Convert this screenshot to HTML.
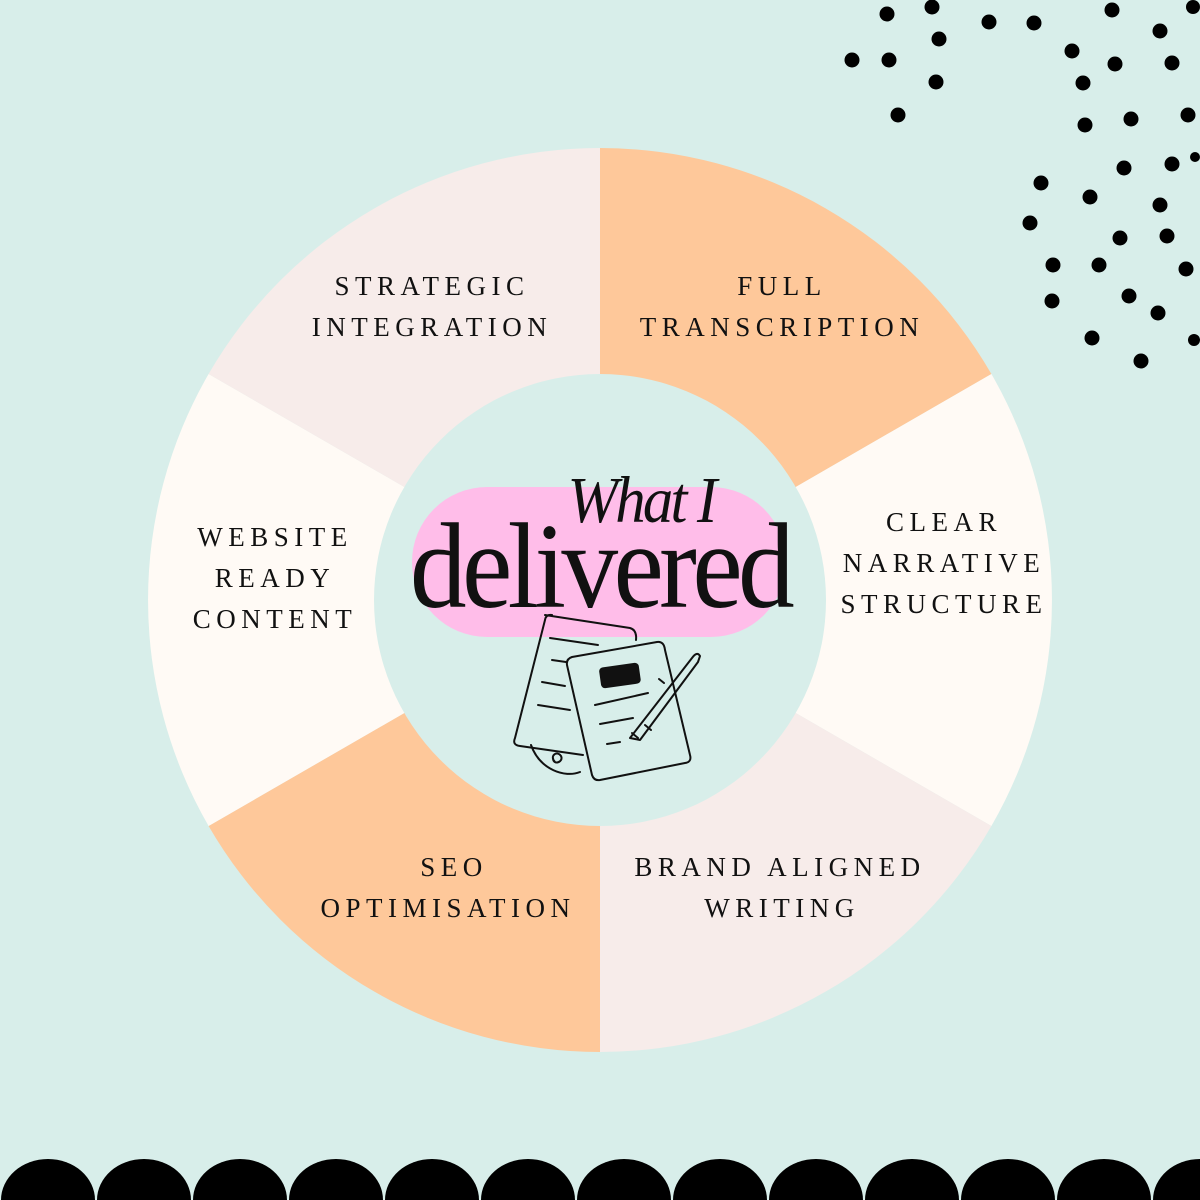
<!DOCTYPE html>
<html><head><meta charset="utf-8"><style>
html,body{margin:0;padding:0;background:#d8eeea;width:1200px;height:1200px;overflow:hidden;}
svg{display:block}
.l{font-family:"Liberation Serif",serif;font-size:27px;letter-spacing:5.5px;fill:#111;text-anchor:middle}
</style></head><body>
<svg width="1200" height="1200" viewBox="0 0 1200 1200" xmlns="http://www.w3.org/2000/svg" overflow="hidden">
<rect width="1200" height="1200" fill="#d8eeea"/>
<g>
<path d="M600,600 L600,148 A452,452 0 0 1 991.4,374 Z" fill="#fec89a"/>
<path d="M600,600 L991.4,374 A452,452 0 0 1 991.4,826 Z" fill="#fffaf5"/>
<path d="M600,600 L991.4,826 A452,452 0 0 1 600,1052 Z" fill="#f7ecea"/>
<path d="M600,600 L600,1052 A452,452 0 0 1 208.6,826 Z" fill="#fec89a"/>
<path d="M600,600 L208.6,826 A452,452 0 0 1 208.6,374 Z" fill="#fffaf5"/>
<path d="M600,600 L208.6,374 A452,452 0 0 1 600,148 Z" fill="#f7ecea"/>
</g>
<circle cx="600" cy="600" r="226" fill="#d8eeea"/>
<text class="l" x="432" y="295">STRATEGIC</text>
<text class="l" x="432" y="336">INTEGRATION</text>
<text class="l" x="782" y="295">FULL</text>
<text class="l" x="782" y="336">TRANSCRIPTION</text>
<text class="l" x="944" y="531">CLEAR</text>
<text class="l" x="944" y="572">NARRATIVE</text>
<text class="l" x="944" y="613">STRUCTURE</text>
<text class="l" x="275" y="546">WEBSITE</text>
<text class="l" x="275" y="587">READY</text>
<text class="l" x="275" y="628">CONTENT</text>
<text class="l" x="454" y="876">SEO</text>
<text class="l" x="448" y="917">OPTIMISATION</text>
<text class="l" x="780" y="876">BRAND ALIGNED</text>
<text class="l" x="782" y="917">WRITING</text>
<rect x="412" y="487" width="374" height="150" rx="75" fill="#ffbde9"/>
<text x="641" y="522" font-family="Liberation Serif,serif" font-style="italic" font-size="66" text-anchor="middle" fill="#111" transform="translate(641,0) scale(0.92,1) translate(-641,0)" letter-spacing="-3">What I</text>
<text x="600" y="607" font-family="Liberation Serif,serif" font-size="122" text-anchor="middle" fill="#111" letter-spacing="-5" transform="translate(600,0) scale(0.93,1) translate(-600,0)">delivered</text>
<g fill="none" stroke="#111" stroke-width="2" stroke-linecap="round" stroke-linejoin="round">
<path d="M531,745 C540,770 565,778 580,772 M555,762 c-6,-6 2,-12 6,-6 c3,6 -8,10 -8,2" />
<path d="M545,615 L630,628 Q637,630 636,640 M515,738 L545,620 Q546,614 552,615 M515,738 Q512,745 520,746 L583,755"/>
<path d="M550,638 L598,645 M552,660 L566,662 M542,682 L565,686 M538,705 L570,710"/>
<path d="M572,657 L657,642 Q664,641 665,650 L690,755 Q692,762 685,763 L600,780 Q594,781 592,775 L567,665 Q566,659 572,657 Z" fill="#d8eeea"/>
<path d="M595,705 L648,693 M600,724 L633,718 M607,744 L620,742"/>
<path d="M630,738 L692,658 Q697,651 700,656 L698,662 L640,740 Z M632,733 l6,5 M645,725 l6,5 M664,683 l-5,-4"/>
</g>
<rect x="600" y="665" width="40" height="21" rx="4" fill="#111" transform="rotate(-8 620 676)"/>
<g fill="#000">
<circle cx="887" cy="14" r="7.5"/><circle cx="932" cy="7" r="7.5"/><circle cx="939" cy="39" r="7.5"/><circle cx="989" cy="22" r="7.5"/><circle cx="1034" cy="23" r="7.5"/><circle cx="1112" cy="10" r="7.5"/><circle cx="1160" cy="31" r="7.5"/><circle cx="1193" cy="7" r="7"/><circle cx="852" cy="60" r="7.5"/><circle cx="889" cy="60" r="7.5"/><circle cx="936" cy="82" r="7.5"/><circle cx="1072" cy="51" r="7.5"/><circle cx="1115" cy="64" r="7.5"/><circle cx="1172" cy="63" r="7.5"/><circle cx="1083" cy="83" r="7.5"/><circle cx="898" cy="115" r="7.5"/><circle cx="1085" cy="125" r="7.5"/><circle cx="1131" cy="119" r="7.5"/><circle cx="1188" cy="115" r="7.5"/><circle cx="1124" cy="168" r="7.5"/><circle cx="1172" cy="164" r="7.5"/><circle cx="1195" cy="157" r="5"/><circle cx="1041" cy="183" r="7.5"/><circle cx="1090" cy="197" r="7.5"/><circle cx="1160" cy="205" r="7.5"/><circle cx="1030" cy="223" r="7.5"/><circle cx="1120" cy="238" r="7.5"/><circle cx="1167" cy="236" r="7.5"/><circle cx="1053" cy="265" r="7.5"/><circle cx="1099" cy="265" r="7.5"/><circle cx="1186" cy="269" r="7.5"/><circle cx="1052" cy="301" r="7.5"/><circle cx="1129" cy="296" r="7.5"/><circle cx="1158" cy="313" r="7.5"/><circle cx="1092" cy="338" r="7.5"/><circle cx="1194" cy="340" r="6"/><circle cx="1141" cy="361" r="7.5"/>
</g>
<g fill="#000">
<path d="M1,1200 A47,41 0 0 1 95,1200 Z"/>
<path d="M97,1200 A47,41 0 0 1 191,1200 Z"/>
<path d="M193,1200 A47,41 0 0 1 287,1200 Z"/>
<path d="M289,1200 A47,41 0 0 1 383,1200 Z"/>
<path d="M385,1200 A47,41 0 0 1 479,1200 Z"/>
<path d="M481,1200 A47,41 0 0 1 575,1200 Z"/>
<path d="M577,1200 A47,41 0 0 1 671,1200 Z"/>
<path d="M673,1200 A47,41 0 0 1 767,1200 Z"/>
<path d="M769,1200 A47,41 0 0 1 863,1200 Z"/>
<path d="M865,1200 A47,41 0 0 1 959,1200 Z"/>
<path d="M961,1200 A47,41 0 0 1 1055,1200 Z"/>
<path d="M1057,1200 A47,41 0 0 1 1151,1200 Z"/>
<path d="M1153,1200 A47,41 0 0 1 1200,1159 L1200,1200 Z"/>
</g>
</svg>
</body></html>
